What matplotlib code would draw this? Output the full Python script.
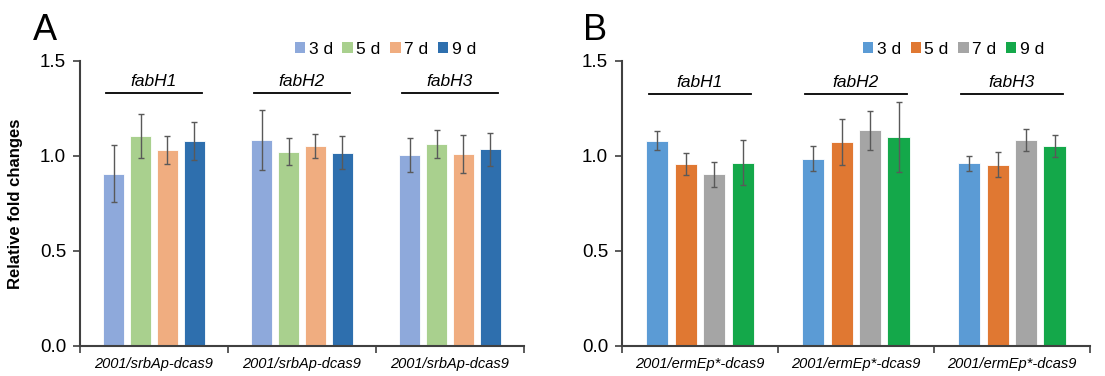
import matplotlib
matplotlib.use("Agg")
import matplotlib.pyplot as plt
from matplotlib.patches import Patch
import numpy as np

plt.rcParams['font.family'] = ['Liberation Sans', 'DejaVu Sans']

series = ["3 d", "5 d", "7 d", "9 d"]
genes = ["fabH1", "fabH2", "fabH3"]

cats_A = ["2001/srbAp-dcas9"] * 3
vals_A = [[0.907, 1.086, 1.004],
          [1.105, 1.023, 1.063],
          [1.032, 1.053, 1.012],
          [1.079, 1.016, 1.035]]
errs_A = [[0.150, 0.158, 0.089],
          [0.116, 0.072, 0.076],
          [0.072, 0.065, 0.099],
          [0.100, 0.087, 0.086]]
colors_A = ["#8EA9DB", "#A9D08E", "#F0AD80", "#2E6FAE"]

cats_B = ["2001/ermEp*-dcas9"] * 3
vals_B = [[1.079, 0.986, 0.961],
          [0.958, 1.075, 0.954],
          [0.904, 1.135, 1.084],
          [0.965, 1.100, 1.053]]
errs_B = [[0.050, 0.065, 0.041],
          [0.057, 0.120, 0.065],
          [0.065, 0.102, 0.056],
          [0.120, 0.186, 0.060]]
colors_B = ["#5B9BD5", "#E07832", "#A5A5A5", "#14A84A"]

fig = plt.figure(figsize=(11.05, 3.76), dpi=100)

def panel(rect, cats, vals, errs, colors, letter, letter_x, ylabel, legend_x, line_y):
    ax = fig.add_axes(rect)
    n = len(cats)
    x = np.arange(n)
    width = 0.142
    pitch = 0.182
    for i, (v, e, c) in enumerate(zip(vals, errs, colors)):
        off = (i - 1.5) * pitch
        ax.bar(x + off, v, width, color=c, edgecolor="white", linewidth=0.6,
               label=series[i], zorder=2)
        ax.errorbar(x + off, v, yerr=e, fmt="none", ecolor="#595959",
                    elinewidth=1.0, capsize=2.5, capthick=1.0, zorder=3)
    ax.set_xlim(-0.5, n - 0.5)
    ax.set_ylim(0, 1.5)
    ax.set_yticks([0, 0.5, 1.0, 1.5])
    ax.set_yticklabels(["0.0", "0.5", "1.0", "1.5"], fontsize=13.5)
    ax.set_xticks(x)
    ax.set_xticklabels(cats, fontsize=10.5, style="italic")
    ax.set_xticks(np.arange(n + 1) - 0.5, minor=True)
    ax.tick_params(axis="x", which="major", length=0, pad=8)
    ax.tick_params(axis="x", which="minor", length=5, width=1.2, color="#404040", direction="out")
    ax.tick_params(axis="y", length=5, width=1.2, color="#404040", direction="out", pad=5)
    for s in ["top", "right"]:
        ax.spines[s].set_visible(False)
    for s in ["left", "bottom"]:
        ax.spines[s].set_color("#404040")
        ax.spines[s].set_linewidth(1.5)
    for j, g in enumerate(genes):
        ax.plot([j - 0.325, j + 0.325], [line_y, line_y], color="black", lw=1.3,
                clip_on=False, zorder=4)
        ax.text(j, line_y + 0.02, g, ha="center", va="bottom", fontsize=12.5, style="italic")
    if ylabel:
        ax.set_ylabel(ylabel, fontsize=12, fontweight="bold", labelpad=12)
    handles = [Patch(facecolor=c, edgecolor="none") for c in colors]
    ax.legend(handles, series, loc="center left", bbox_to_anchor=(legend_x, 1.042),
              ncol=4, frameon=False, fontsize=12.5, handlelength=0.6, handleheight=0.6,
              handletextpad=0.2, columnspacing=0.55, borderaxespad=0, borderpad=0)
    fig.text(letter_x, 0.965, letter, fontsize=26, ha="left", va="top")
    return ax

panel([0.0724, 0.0798, 0.4018, 0.758], cats_A, vals_A, errs_A, colors_A, "A", 0.030,
      "Relative fold changes", 0.484, 1.332)
panel([0.5629, 0.0798, 0.4235, 0.758], cats_B, vals_B, errs_B, colors_B, "B", 0.5276,
      None, 0.515, 1.325)

fig.savefig("out.png", dpi=100)
